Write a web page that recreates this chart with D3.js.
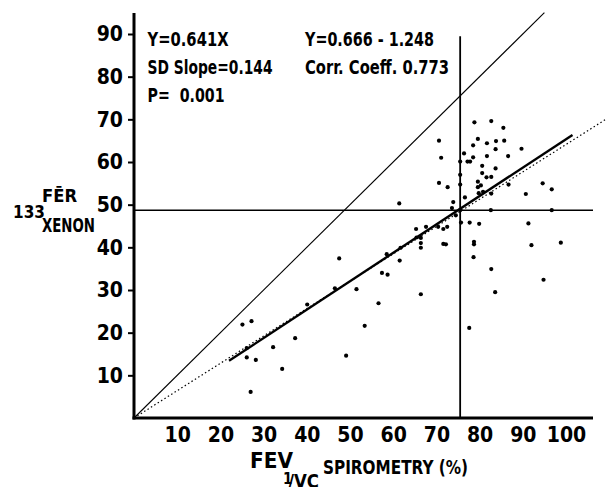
<!DOCTYPE html>
<html><head><meta charset="utf-8">
<script src="https://cdn.jsdelivr.net/npm/d3@7"></script>
<style>
body{margin:0;background:#fff}
text{font-family:"Liberation Sans Narrow","DejaVu Sans Condensed","Liberation Sans",sans-serif;fill:#000}
</style>
</head><body><svg id="c" width="606" height="487"></svg>
<script>
// ---- data ----
const xTicks = [10,20,30,40,50,60,70,80,90,100];
const yTicks = [10,20,30,40,50,60,70,80,90];
const fevValues = [
 25.1,27.2,26.1,26.1,28.2,27.0,32.2,34.3,37.3,40.1,
 46.5,47.5,49.1,51.5,53.4,56.6,57.4,58.7,58.5,61.5,61.7,61.4,
 65.3,65.4,66.4,66.4,66.4,66.4,67.6,70.4,71.6,72.5,71.6,72.2,
 70.6,71.1,70.6,72.6,73.9,73.6,74.5,75.5,
 75.5,75.5,75.5,75.7,76.4,76.6,77.2,77.8,77.7,77.6,78.8,78.5,78.5,78.7,78.7,78.6,
 79.6,79.6,79.6,79.8,79.9,80.3,80.6,80.6,80.8,81.6,81.7,81.7,82.7,82.7,82.7,82.6,
 82.7,83.6,83.7,83.7,83.8,85.5,85.7,86.6,86.7,89.7,90.7,91.3,92.0,94.6,94.8,96.7,96.7,98.8
];
const xenonValues = [
 21.9,22.7,16.4,14.2,13.6,6.1,16.6,11.5,18.7,26.6,
 30.4,37.4,14.6,30.2,21.6,26.9,34.0,33.6,38.4,36.9,39.9,50.3,
 44.3,42.3,42.2,41.0,39.9,29.0,44.8,44.8,44.3,44.8,40.8,40.7,
 65.0,61.0,55.1,54.1,50.6,49.2,47.5,48.7,
 60.1,57.0,54.7,45.8,62.0,51.7,60.1,60.1,45.8,21.1,69.3,63.9,61.1,41.3,40.7,37.7,
 65.4,55.4,54.1,52.7,45.5,54.5,59.1,57.4,53.0,56.4,64.4,61.4,69.6,56.5,52.6,48.7,
 34.9,29.5,63.0,58.5,64.9,68.0,65.0,61.4,54.7,63.1,52.5,45.6,40.5,55.0,32.4,53.6,48.7,41.1
];
const annotationLeft = ["Y=0.641X","SD Slope=0.144","P=  0.001"];
const annotationRight = ["Y=0.666 - 1.248","Corr. Coeff. 0.773"];
const originSlope = 0.641;           // Y = 0.641X
const regSlope = 0.666, regIntercept = -1.248;
const regRange = [22, 101.5];
const identityRange = [0, 95];
const dottedRange = [0, 109.5];
const cutFEV = 75.5, cutXenon = 48.7;

// ---- drawing ----
const svg = d3.select("#c");
const x = d3.scaleLinear().domain([0,100]).range([134,566]);
const y = d3.scaleLinear().domain([0,90]).range([418,34]);
const line = d3.line().x(d=>x(d[0])).y(d=>y(d[1]));

// identity line
svg.append("path").attr("d", line(identityRange.map(v=>[v,v])))
  .attr("fill","none").attr("stroke","#000").attr("stroke-width",1.1);
// dotted Y=0.641X
svg.append("path").attr("d", line(dottedRange.map(v=>[v,originSlope*v])))
  .attr("fill","none").attr("stroke","#000").attr("stroke-width",1.2)
  .attr("stroke-dasharray","1.5,2.5");
// regression
svg.append("path").attr("d", line(regRange.map(v=>[v,regSlope*v+regIntercept])))
  .attr("fill","none").attr("stroke","#000").attr("stroke-width",2.4);
// cut lines
svg.append("path").attr("d", line([[0,cutXenon],[x.invert(593),cutXenon]]))
  .attr("stroke","#000").attr("stroke-width",1.6);
svg.append("path").attr("d", line([[cutFEV,0],[cutFEV,89.5]]))
  .attr("stroke","#000").attr("stroke-width",1.8);

// points
svg.append("g").selectAll("circle").data(fevValues.map((v,i)=>[v,xenonValues[i]]))
  .join("circle").attr("cx",d=>x(d[0])).attr("cy",d=>y(d[1])).attr("r",2.1).attr("fill","#000");

// axes
const ya = svg.append("g").attr("transform","translate(134,0)")
  .call(d3.axisLeft(y).tickValues(yTicks).tickSize(6).tickPadding(5).tickFormat(d3.format("d")));
ya.select(".domain").remove();
ya.selectAll(".tick line").attr("stroke-width",2);
ya.selectAll("text").attr("font-size",21).attr("font-weight","bold").attr("font-family",null);
svg.append("line").attr("x1",134).attr("x2",134).attr("y1",y(0)+1.5).attr("y2",13)
  .attr("stroke","#000").attr("stroke-width",3);

const xa = svg.append("g").attr("transform","translate(0,418)")
  .call(d3.axisBottom(x).tickValues(xTicks).tickSize(0).tickPadding(9).tickFormat(d3.format("d")));
xa.select(".domain").remove();
xa.selectAll("text").attr("font-size",21).attr("font-weight","bold").attr("font-family",null);
svg.append("line").attr("x1",132.5).attr("x2",593).attr("y1",418).attr("y2",418)
  .attr("stroke","#000").attr("stroke-width",3);

// annotations
const leftW=[81,125,77], rightW=[129,144];
annotationLeft.forEach((t,i)=>{
  svg.append("text").attr("x",147.5).attr("y",46+i*28).attr("font-size",19).attr("font-weight","bold")
   .attr("textLength",leftW[i]).attr("lengthAdjust","spacingAndGlyphs").style("white-space","pre").text(t);
});
annotationRight.forEach((t,i)=>{
  svg.append("text").attr("x",305).attr("y",46+i*28).attr("font-size",19).attr("font-weight","bold")
   .attr("textLength",rightW[i]).attr("lengthAdjust","spacingAndGlyphs").text(t);
});

// y title
svg.append("text").attr("x",13).attr("y",218).attr("font-size",17).attr("font-weight","bold").text("133");
svg.append("text").attr("x",42).attr("y",202).attr("font-size",18).attr("font-weight","bold")
  .attr("textLength",35).attr("lengthAdjust","spacingAndGlyphs").text("FĒR");
svg.append("text").attr("x",42).attr("y",232).attr("font-size",19).attr("font-weight","bold")
  .attr("textLength",53).attr("lengthAdjust","spacingAndGlyphs").text("XENON");

// x title
svg.append("text").attr("x",250).attr("y",468).attr("font-size",21).attr("font-weight","bold")
  .attr("textLength",43).attr("lengthAdjust","spacingAndGlyphs").text("FEV");
svg.append("text").attr("x",283).attr("y",484).attr("font-size",15).attr("font-weight","bold").text("1");
svg.append("text").attr("x",288).attr("y",488).attr("font-size",19).attr("font-weight","bold")
  .attr("textLength",31).attr("lengthAdjust","spacingAndGlyphs").text("/VC");
svg.append("text").attr("x",323).attr("y",474).attr("font-size",20).attr("font-weight","bold")
  .attr("textLength",145).attr("lengthAdjust","spacingAndGlyphs").text("SPIROMETRY (%)");
</script>
</body></html>
